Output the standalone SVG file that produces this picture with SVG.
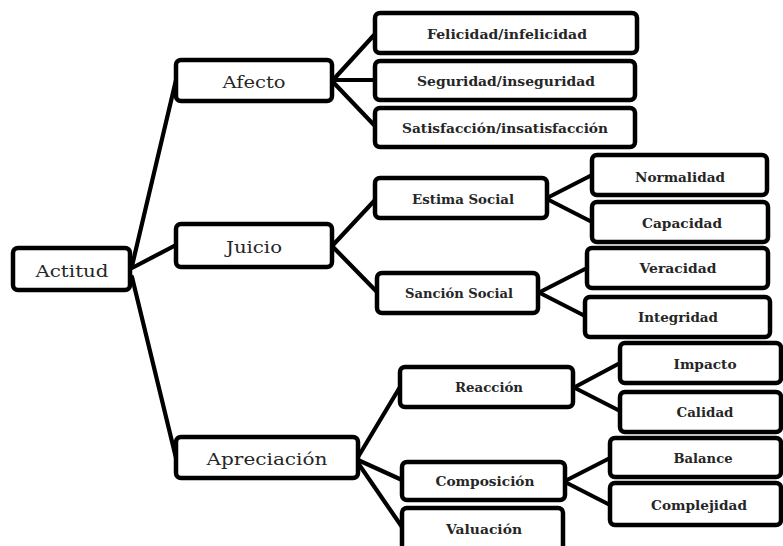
<svg xmlns="http://www.w3.org/2000/svg" width="783" height="546" viewBox="0 0 783 546">
<style>
rect{fill:#fff;stroke:#000;stroke-width:4.5}
.c line{stroke:#000;stroke-width:4.2;stroke-linecap:round}
text{font-family:"DejaVu Serif","Liberation Serif",serif;fill:#262626;text-anchor:middle}
.m{font-size:17.5px}
.s{font-size:13px;font-weight:bold}
</style>
<rect x="0" y="0" width="783" height="546" style="stroke:none"/>
<g class="c">
<line x1="132" y1="266" x2="176" y2="80"/>
<line x1="132" y1="268" x2="176" y2="245"/>
<line x1="132" y1="277" x2="176" y2="458"/>
<line x1="333" y1="80" x2="375" y2="34"/>
<line x1="333" y1="80" x2="375" y2="80"/>
<line x1="333" y1="82" x2="375" y2="126"/>
<line x1="333" y1="245" x2="375" y2="200"/>
<line x1="333" y1="247" x2="377" y2="292"/>
<line x1="547" y1="198" x2="592" y2="175"/>
<line x1="547" y1="199" x2="592" y2="222"/>
<line x1="540" y1="292" x2="585" y2="269"/>
<line x1="540" y1="293" x2="585" y2="316"/>
<line x1="358" y1="457" x2="400" y2="387"/>
<line x1="358" y1="460" x2="402" y2="480"/>
<line x1="358" y1="463" x2="402" y2="527"/>
<line x1="575" y1="387" x2="620" y2="363"/>
<line x1="575" y1="388" x2="620" y2="411"/>
<line x1="565" y1="481" x2="610" y2="458"/>
<line x1="565" y1="482" x2="610" y2="505"/>
</g>
<g id="actitud"><rect x="13" y="248" width="117" height="42" rx="5"/><text class="m" x="72" y="277" textLength="73" lengthAdjust="spacingAndGlyphs">Actitud</text></g>
<g id="afecto"><rect x="176" y="60" width="156" height="41" rx="5"/><text class="m" x="254" y="88" textLength="63" lengthAdjust="spacingAndGlyphs">Afecto</text></g>
<g id="juicio"><rect x="176" y="224" width="156" height="43" rx="5"/><text class="m" x="254" y="253" textLength="56" lengthAdjust="spacingAndGlyphs">Juicio</text></g>
<g id="apreciacion"><rect x="176" y="437" width="182" height="41" rx="5"/><text class="m" x="267" y="465" textLength="121" lengthAdjust="spacingAndGlyphs">Apreciación</text></g>
<g id="felicidad"><rect x="375" y="13" width="262" height="40" rx="5"/><text class="s" x="507" y="39" textLength="160" lengthAdjust="spacingAndGlyphs">Felicidad/infelicidad</text></g>
<g id="seguridad"><rect x="375" y="61" width="260" height="39" rx="5"/><text class="s" x="506" y="86" textLength="178" lengthAdjust="spacingAndGlyphs">Seguridad/inseguridad</text></g>
<g id="satisfaccion"><rect x="375" y="108" width="260" height="39" rx="5"/><text class="s" x="505" y="133" textLength="206" lengthAdjust="spacingAndGlyphs">Satisfacción/insatisfacción</text></g>
<g id="estima"><rect x="375" y="178" width="172" height="40" rx="5"/><text class="s" x="463" y="204" textLength="102" lengthAdjust="spacingAndGlyphs">Estima Social</text></g>
<g id="normalidad"><rect x="592" y="155" width="175" height="40" rx="5"/><text class="s" x="680" y="182" textLength="90" lengthAdjust="spacingAndGlyphs">Normalidad</text></g>
<g id="capacidad"><rect x="592" y="202" width="176" height="40" rx="5"/><text class="s" x="682" y="228" textLength="80" lengthAdjust="spacingAndGlyphs">Capacidad</text></g>
<g id="sancion"><rect x="377" y="273" width="161" height="40" rx="5"/><text class="s" x="459" y="298" textLength="108" lengthAdjust="spacingAndGlyphs">Sanción Social</text></g>
<g id="veracidad"><rect x="587" y="248" width="181" height="40" rx="5"/><text class="s" x="678" y="273" textLength="77" lengthAdjust="spacingAndGlyphs">Veracidad</text></g>
<g id="integridad"><rect x="585" y="297" width="185" height="40" rx="5"/><text class="s" x="678" y="322" textLength="80" lengthAdjust="spacingAndGlyphs">Integridad</text></g>
<g id="reaccion"><rect x="400" y="367" width="173" height="40" rx="5"/><text class="s" x="489" y="392" textLength="68" lengthAdjust="spacingAndGlyphs">Reacción</text></g>
<g id="impacto"><rect x="620" y="343" width="161" height="40" rx="5"/><text class="s" x="705" y="369" textLength="63" lengthAdjust="spacingAndGlyphs">Impacto</text></g>
<g id="calidad"><rect x="620" y="392" width="161" height="40" rx="5"/><text class="s" x="705" y="417" textLength="57" lengthAdjust="spacingAndGlyphs">Calidad</text></g>
<g id="composicion"><rect x="402" y="462" width="163" height="38" rx="5"/><text class="s" x="485" y="486" textLength="99" lengthAdjust="spacingAndGlyphs">Composición</text></g>
<g id="balance"><rect x="610" y="438" width="171" height="39" rx="5"/><text class="s" x="703" y="463" textLength="59" lengthAdjust="spacingAndGlyphs">Balance</text></g>
<g id="complejidad"><rect x="610" y="483" width="171" height="42" rx="5"/><text class="s" x="699" y="510" textLength="96" lengthAdjust="spacingAndGlyphs">Complejidad</text></g>
<g id="valuacion"><rect x="402" y="508" width="161" height="60" rx="5"/><text class="s" x="484" y="534" textLength="76" lengthAdjust="spacingAndGlyphs">Valuación</text></g>
</svg>
